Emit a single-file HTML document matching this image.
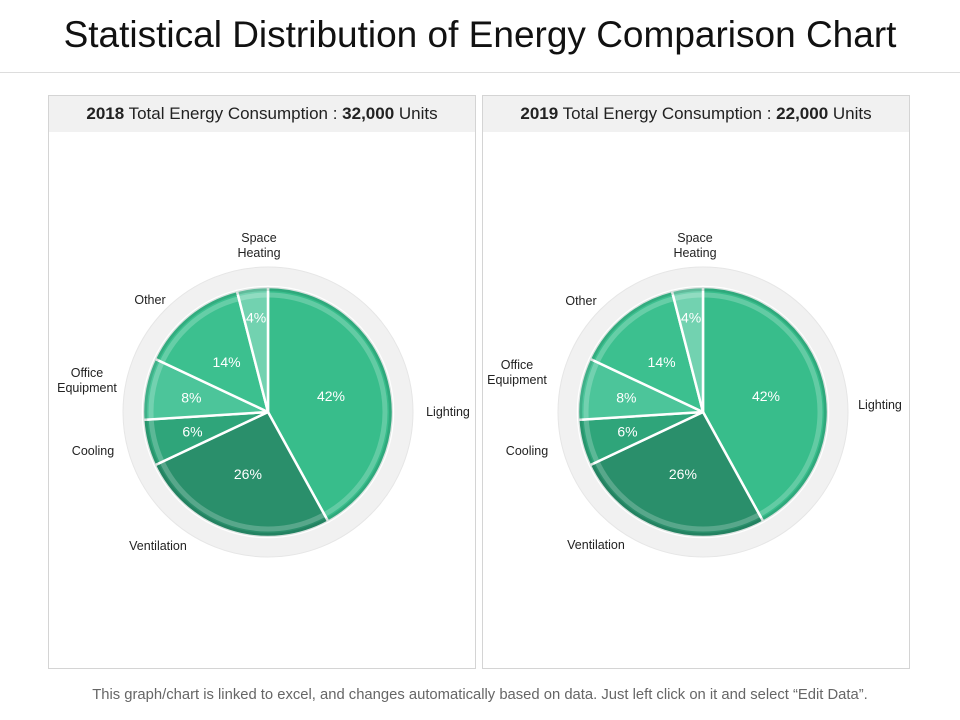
<!DOCTYPE html>
<html><head><meta charset="utf-8"><style>
body{margin:0;width:960px;height:720px;background:#fff;font-family:"Liberation Sans",sans-serif;position:relative;overflow:hidden}
#title{position:absolute;top:14px;left:0;width:960px;text-align:center;font-size:37px;color:#111}
#rule{position:absolute;top:72px;left:0;width:960px;height:1px;background:#ddd}
.panel{position:absolute;top:95px;width:426px;height:572px;border:1px solid #d4d4d4;background:#fff}
.hdr{height:36px;background:#f1f1f1;text-align:center;line-height:36px;font-size:17px;color:#222}
#foot{position:absolute;top:687px;left:0;width:960px;text-align:center;font-size:14.8px;color:#666}
svg{position:absolute;left:0;top:0}
</style></head><body>
<div id="title">Statistical Distribution of Energy Comparison Chart</div>
<div id="rule"></div>
<div class="panel" style="left:48px"><div class="hdr"><b>2018</b> Total Energy Consumption : <b>32,000</b> Units</div></div>
<div class="panel" style="left:482px"><div class="hdr"><b>2019</b> Total Energy Consumption : <b>22,000</b> Units</div></div>
<svg id="chart" width="960" height="720"></svg>
<div id="foot">This graph/chart is linked to excel, and changes automatically based on data. Just left click on it and select “Edit Data”.</div>
<script>
const categories=["Lighting","Ventilation","Cooling","Office Equipment","Other","Space Heating"];
const values2018=[42,26,6,8,14,4];
const values2019=[42,26,6,8,14,4];
const colors=["#38bd8b","#2a8f6b","#2fa57a","#4cc59a","#3cc08f","#72d2b0"];
const NS="http://www.w3.org/2000/svg";
const svg=document.getElementById('chart');
function mk(t,a){const e=document.createElementNS(NS,t);for(const k in a)e.setAttribute(k,a[k]);svg.appendChild(e);return e;}
function pt(cx,cy,r,a){return [cx+r*Math.sin(a),cy-r*Math.cos(a)];}
function drawPie(cx,cy,vals,year,labelPos){
  const R=125;
  const bg=mk('circle',{cx:cx,cy:cy,r:145,fill:'#f1f1f1',stroke:'#e6e6e6','stroke-width':1});
  
  
  const total=vals.reduce((a,b)=>a+b,0);
  let a0=0;
  vals.forEach((v,i)=>{
    const a1=a0+v/total*2*Math.PI;
    const p0=pt(cx,cy,R,a0),p1=pt(cx,cy,R,a1);
    const large=(a1-a0)>Math.PI?1:0;
    const s=mk('path',{d:`M${cx},${cy}L${p0[0]},${p0[1]}A${R},${R} 0 ${large} 1 ${p1[0]},${p1[1]}Z`,fill:colors[i],stroke:'#fff','stroke-width':2.5});
    
    
    a0=a1;
  });
  const ring=mk('circle',{cx:cx,cy:cy,r:117,fill:'none',stroke:'rgba(255,255,255,0.22)','stroke-width':5});
  
  
  const edge=mk('circle',{cx:cx,cy:cy,r:123,fill:'none',stroke:'rgba(0,60,40,0.15)','stroke-width':4});
  
  
  a0=0;
  vals.forEach((v,i)=>{
    const am=a0+v/total*Math.PI; a0+=v/total*2*Math.PI;
    const rr=v<5?95:(v<10?78:65);
    const p=pt(cx,cy,rr,am);
    const t=mk('text',{x:p[0],y:p[1]+5,'text-anchor':'middle','font-size':14,fill:'#fff','font-family':'Liberation Sans, sans-serif'});
    t.textContent=v+'%';
    
    
  });
  labelPos.forEach((lp,i)=>{
    const t=mk('text',{x:lp[0],y:lp[1],'text-anchor':'middle','font-size':12.5,fill:'#222','font-family':'Liberation Sans, sans-serif'});
    lp[2].split('|').forEach((ln,j)=>{const ts=document.createElementNS(NS,'tspan');ts.setAttribute('x',lp[0]);ts.setAttribute('dy',j?15:0);ts.textContent=ln;t.appendChild(ts);});
    
    
  });
}
drawPie(268,412,values2018,'2018',[[448,416,"Lighting"],[158,550,"Ventilation"],[93,455,"Cooling"],[87,377,"Office|Equipment"],[150,304,"Other"],[259,242,"Space|Heating"]]);
drawPie(703,412,values2019,'2019',[[880,409,"Lighting"],[596,549,"Ventilation"],[527,455,"Cooling"],[517,369,"Office|Equipment"],[581,305,"Other"],[695,242,"Space|Heating"]]);
</script>
</body></html>
